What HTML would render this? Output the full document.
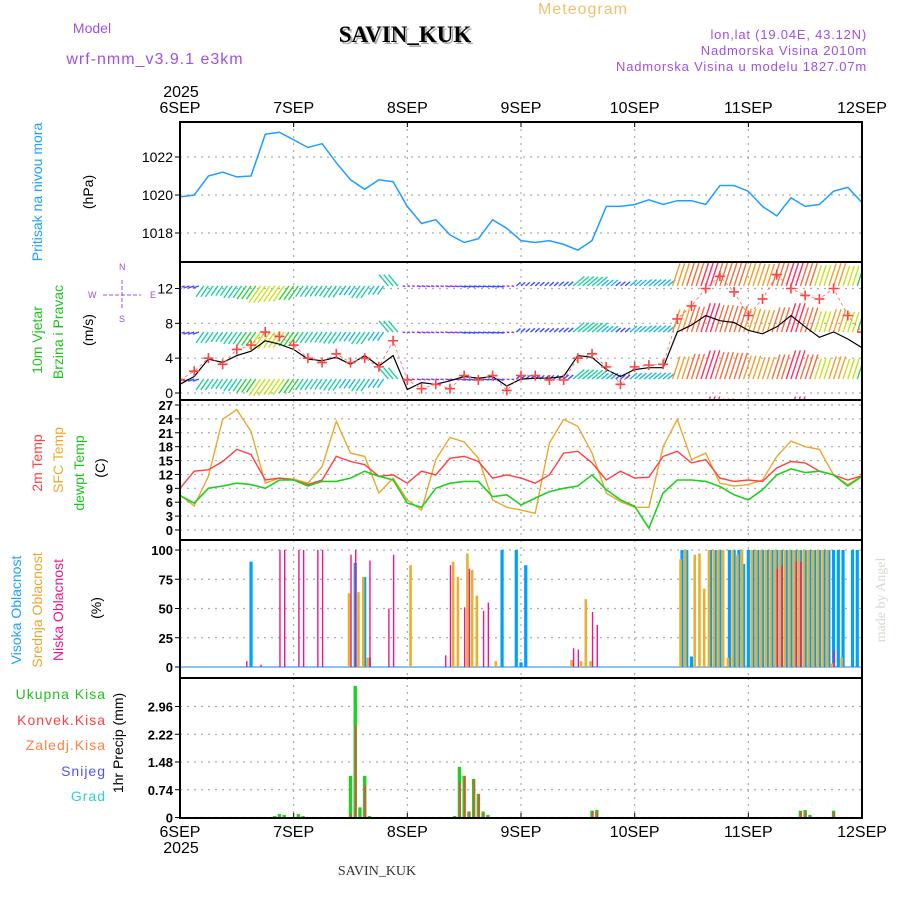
<!DOCTYPE html>
<html><head><meta charset="utf-8"><style>
html,body{margin:0;padding:0;background:#fff;}
svg{display:block;font-family:"Liberation Sans",sans-serif;}
</style></head><body>
<svg id="chart" width="900" height="900" viewBox="0 0 900 900" xmlns="http://www.w3.org/2000/svg">
<text x="583" y="14" font-size="16" fill="#f0c070" text-anchor="middle" letter-spacing="1">Meteogram</text>
<text x="92" y="33" font-size="14" fill="#a050e0" text-anchor="middle">Model</text>
<text x="155" y="64" font-size="16" fill="#a050e0" text-anchor="middle" letter-spacing="1">wrf-nmm_v3.9.1 e3km</text>
<text x="407" y="44" font-size="23" font-weight="bold" fill="#aaa" text-anchor="middle" font-family="Liberation Serif,serif">SAVIN_KUK</text>
<text x="405" y="42" font-size="23" font-weight="bold" fill="#000" text-anchor="middle" font-family="Liberation Serif,serif">SAVIN_KUK</text>
<text x="867" y="39" font-size="13" fill="#a050e0" text-anchor="end" letter-spacing="0.8">lon,lat (19.04E, 43.12N)</text>
<text x="867" y="55" font-size="13" fill="#a050e0" text-anchor="end" letter-spacing="0.8">Nadmorska Visina 2010m</text>
<text x="867" y="71" font-size="13" fill="#a050e0" text-anchor="end" letter-spacing="0.8">Nadmorska Visina u modelu 1827.07m</text>
<text x="377" y="875" font-size="14" fill="#333" text-anchor="middle" font-family="Liberation Serif,serif">SAVIN_KUK</text>
<text transform="translate(885,600) rotate(-90)" font-size="14" fill="#d8d8d0" text-anchor="middle" font-family="Liberation Serif,serif">made by Angel</text>

<g font-size="14" text-anchor="middle">
<text transform="translate(42,192) rotate(-90)" fill="#1e9fff">Pritisak na nivou mora</text>
<text transform="translate(93,192) rotate(-90)" fill="#000">(hPa)</text>
<text transform="translate(42,340) rotate(-90)" fill="#20c020">10m Vjetar</text>
<text transform="translate(63,332) rotate(-90)" fill="#20c020">Brzina i Pravac</text>
<text transform="translate(93,330) rotate(-90)" fill="#000">(m/s)</text>
<text transform="translate(42,463) rotate(-90)" fill="#ff4040">2m Temp</text>
<text transform="translate(63,460) rotate(-90)" fill="#e8a830">SFC Temp</text>
<text transform="translate(84,473) rotate(-90)" fill="#20c020">dewpt Temp</text>
<text transform="translate(105,468) rotate(-90)" fill="#000">(C)</text>
<text transform="translate(21,610) rotate(-90)" fill="#1e9fff">Visoka Oblacnost</text>
<text transform="translate(42,610) rotate(-90)" fill="#e8a830">Srednja Oblacnost</text>
<text transform="translate(63,610) rotate(-90)" fill="#f0148c">Niska Oblacnost</text>
<text transform="translate(101,608) rotate(-90)" fill="#000">(%)</text>
<text transform="translate(123,743) rotate(-90)" fill="#000">1hr Precip (mm)</text>
</g>
<g font-size="14" text-anchor="end" letter-spacing="1">
<text x="106" y="699" fill="#20c020">Ukupna Kisa</text>
<text x="106" y="725" fill="#ff4040">Konvek.Kisa</text>
<text x="106" y="750" fill="#ff8040">Zaledj.Kisa</text>
<text x="106" y="776" fill="#5050ff">Snijeg</text>
<text x="106" y="801" fill="#30d0d0">Grad</text>
</g>
<g stroke="#a050e0" fill="#a050e0" font-size="9">
<line x1="103" y1="295" x2="141" y2="295" stroke-dasharray="4,2"/>
<line x1="122" y1="280" x2="122" y2="310" stroke-dasharray="4,2"/>
<text x="88" y="298" stroke="none">W</text><text x="150" y="298" stroke="none">E</text>
<text x="119" y="270" stroke="none">N</text><text x="119" y="322" stroke="none">S</text>
</g>
<g id="plot"></g>
</svg>
<script>
// ---------- data (3-hourly, starting 6SEP 00 UTC) ----------
const hours = [0,3,6,9,12,15,18,21,24,27,30,33,36,39,42,45,48,51,54,57,60,63,66,69,72,75,78,81,84,87,90,93,96,99,102,105,108,111,114,117,120,123,126,129,132,135,138,141,144];
const pressure = [1019.9,1020,1021,1021.2,1020.95,1021,1023.2,1023.3,1022.9,1022.5,1022.7,1021.7,1020.8,1020.3,1020.8,1020.7,1019.4,1018.5,1018.7,1017.9,1017.5,1017.7,1018.7,1018.25,1017.6,1017.5,1017.6,1017.4,1017.1,1017.6,1019.4,1019.4,1019.5,1019.75,1019.5,1019.7,1019.7,1019.5,1020.5,1020.5,1020.2,1019.4,1018.9,1019.85,1019.4,1019.5,1020.2,1020.4,1019.6];
const windSpeed = [1,1.9,3.9,3.5,4.3,4.8,6,5.6,5,3.9,3.7,4.1,3.3,4.3,3.1,4.3,0.4,1.2,1,1.4,1.9,1.7,1.9,0.8,1.6,1.7,1.7,1.9,4.3,4.1,2.7,1.9,2.7,2.9,2.9,7,7.8,8.9,8.3,8.1,7.2,6.8,7.6,8.9,7.6,6.4,7,6.2,5.2];
const windGust = [1.5,2.5,4,3.3,5,5.5,7,6.5,5.5,4,3.5,4.5,3.5,4,3,6,1.5,0.5,1,0.5,2,1.5,2,0.3,2,2,1.5,1.5,4,4.5,3,1,3,3.2,3.3,8.5,10,12,13.4,11.6,8.9,10.8,13.6,12,11.2,10.8,12,8.9,7];
const windDir = [250,250,215,215,215,215,215,215,215,215,215,215,215,215,215,320,100,100,100,100,100,100,100,100,50,50,50,50,50,50,50,50,50,50,50,18,18,18,18,18,18,18,18,18,18,18,18,18,18];
const temp2m = [9,12.7,13,14.8,17.4,16.3,10.8,11.2,10.8,9.8,10.8,15.9,14.8,14.1,11.6,11.9,10.1,12.7,11.9,15.5,15.9,14.8,11.2,11.9,11.2,10.1,11.9,16.6,17,14.5,10.8,12.7,11.2,11.4,15.9,17,14.5,15.2,11.2,10.5,10.8,10.5,13.4,14.8,14.5,12.7,11.9,10.8,11.7];
const tempSfc = [7.6,5.2,11.6,23.9,26,21.3,10.1,11.2,11,10.1,13.7,23.5,16.6,15.9,8,11.2,6.5,4.3,15.2,20,19,15.5,6.5,4.9,4.3,3.6,18.8,23.9,22.4,16.6,8,6.1,4.9,4.9,18,23.9,15.2,16.6,10.1,9.5,9.8,10.8,15.9,19.2,18,17.4,11.9,9.8,11.7];
const tempDew = [7.4,5.8,9,9.5,10.1,9.8,9,10.8,10.8,9.5,10.5,10.5,11.2,12.7,11.6,10.8,5.8,4.9,9,10.1,10.5,10.5,7.2,7.6,5.4,6.9,8.3,9,9.5,11.9,8.7,6.5,5.1,0.4,8,10.8,10.8,10.5,9.4,7.6,6.5,8.7,11.9,13.2,12.4,12.7,11.9,9.5,11.6];
// cloud cover (hour of forecast, percent)
const highHours = [15,37,39,40,68,71,72,73,106,107,108,112,113,114,116,117,118,119,120,121,122,123,124,125,126,127,128,129,130,131,132,133,134,135,136,137,138,139,140,142,143];
const highVals  = [90,89,77,8,100,100,4,87,100,100,9,100,100,100,100,100,100,88,100,100,100,100,100,100,100,100,100,100,100,100,100,100,100,100,100,100,100,100,100,100,100];
const midHours = [36,38,39,40,49,58,59,61,62,63,67,83,85,86,87,106,107,109,110,111,112,113,114,115,116,117,118,119,121,122,123,124,125,126,127,128,129,130,131,132,133,134,135,136,137,138,140];
const midVals  = [63,64,77,8,87,90,77,97,83,61,5,6,5,58,5,92,100,96,97,67,100,100,100,100,8,100,96,100,100,100,100,100,100,100,100,100,100,100,100,100,100,100,100,100,100,3,8];
const lowHours = [14,17,21,22,25,26,29,30,36,37,40,44,45,56,57,60,61,64,65,83,84,87,88,126,127,130,131,138];
const lowVals  = [5,2,100,100,100,100,100,100,96,100,91,50,96,10,87,51,84,48,55,16,15,47,36,84,87,90,90,14];
// precipitation (hour, mm)
const precipHours = [20,21,22,25,26,36,37,38,39,40,58,59,60,61,62,63,64,65,87,88,131,132,133,138];
const precipTotal = [0.04,0.09,0.07,0.09,0.04,1.11,3.51,0.27,1.11,0.04,0.04,1.35,1.11,0.16,1.03,0.63,0.16,0.07,0.18,0.2,0.18,0.2,0.07,0.18];
const precipConv  = [0,0,0,0,0,0.1,2.44,0.02,0.85,0,0.02,0.95,1.11,0.16,1.0,0.63,0.1,0.02,0.18,0.15,0.15,0.15,0.03,0.15];
const dayLabels = ["6SEP","7SEP","8SEP","9SEP","10SEP","11SEP","12SEP"];
const pressTicks = [1018,1020,1022];
const windTicks = [0,4,8,12];
const tempTicks = [0,3,6,9,12,15,18,21,24,27];
const cloudTicks = [0,25,50,75,100];
const precipTicks = [0,0.74,1.48,2.22,2.96];
const windRows = [12.3,7.0,1.6,-3.7];

// ---------- axes ----------
const NS="http://www.w3.org/2000/svg";
const plot=document.getElementById('plot');
const X0=180,X1=862;
const X=h=>X0+h*(X1-X0)/144;
function lin(v0,p0,v1,p1){return v=>p0+(v-v0)*(p1-p0)/(v1-v0);}
const panels=[
 {name:'pressure',top:122,bot:262,y:lin(1018,233,1022,157),ticks:pressTicks,fmt:v=>String(v),bold:false},
 {name:'wind',top:262,bot:400,y:lin(0,393,12,288.5),ticks:windTicks,fmt:v=>String(v),bold:false},
 {name:'temp',top:400,bot:540,y:lin(0,530,27,405),ticks:tempTicks,fmt:v=>String(v),bold:true},
 {name:'cloud',top:540,bot:678,y:lin(0,667,100,550),ticks:cloudTicks,fmt:v=>String(v),bold:true},
 {name:'precip',top:678,bot:818,y:lin(0,817.5,2.96,706.5),ticks:precipTicks,fmt:v=>v===0?'0':v.toFixed(2),bold:true}
];
function mk(tag,attrs,parent){const e=document.createElementNS(NS,tag);for(const k in attrs)e.setAttribute(k,attrs[k]);(parent||plot).appendChild(e);return e;}

const defs=mk('defs',{});
panels.forEach((p,i)=>{
  const cp=mk('clipPath',{id:'clip'+i},defs);
  mk('rect',{x:X0,y:p.top,width:X1-X0,height:p.bot-p.top},cp);
  const g=mk('g',{});
  
  
  p.ticks.forEach(t=>{
    const y=p.y(t);
    mk('line',{x1:X0,x2:X1,y1:y,y2:y,stroke:'#aaa','stroke-dasharray':'2,5','stroke-width':1.2},g);
    mk('line',{x1:X0-5,x2:X0,y1:y,y2:y,stroke:'#000'},g);
    const tx=mk('text',{x:X0-7,y:y+5,'font-size':p.bold?13:14,'font-weight':p.bold?'bold':'normal','text-anchor':'end',fill:'#000'},g);
    tx.textContent=p.fmt(t);
    
    
  });
  for(let d=1;d<6;d++){const x=X(d*24);mk('line',{x1:x,x2:x,y1:p.top,y2:p.bot,stroke:'#aaa','stroke-dasharray':'2,5','stroke-width':1.2},g);}
});
// x labels
dayLabels.forEach((l,d)=>{
  const x=X(d*24);
  const t1=mk('text',{x:x,y:113,'font-size':16,'text-anchor':'middle'});t1.textContent=l;
  
  
  const t2=mk('text',{x:x,y:837,'font-size':16,'text-anchor':'middle'});t2.textContent=l;
  
  
  mk('line',{x1:x,x2:x,y1:122,y2:127,stroke:'#000'});
  mk('line',{x1:x,x2:x,y1:813,y2:818,stroke:'#000'});
});
{const y1=mk('text',{x:181,y:97,'font-size':16,'text-anchor':'middle'});y1.textContent='2025';
 
 
 const y2=mk('text',{x:181,y:853,'font-size':16,'text-anchor':'middle'});y2.textContent='2025';
 
 }

function line(arr,yf,color,w,name,clip){
  const d=arr.map((v,i)=>(i?'L':'M')+X(hours[i]).toFixed(1)+','+yf(v).toFixed(1)).join('');
  const p=mk('path',{d:d,fill:'none',stroke:color,'stroke-width':w,'clip-path':'url(#clip'+clip+')'});
  
  
}
// pressure
line(pressure,panels[0].y,'#1e9fff',1.5,'pressure-line',0);

// wind arrows
function windColor(s){
  if(s<1.5)return '#9a30e0';if(s<2.5)return '#3a50ff';if(s<3.5)return '#20b8e0';if(s<4.5)return '#20d0a0';
  if(s<5.5)return '#30d040';if(s<6.5)return '#c8e020';if(s<7.5)return '#f0a030';if(s<8.5)return '#f07040';return '#ff3060';}
const wy=panels[1].y;
const wg=mk('g',{'clip-path':'url(#clip1)'});


windRows.forEach(rv=>{
  const by=wy(rv);
  windSpeed.forEach((s,i)=>{
    const L=Math.max(s,0.8)*3.4;
    const a=windDir[i]*Math.PI/180;
    const dx=L*Math.sin(a),dy=-L*Math.cos(a);
    const c=windColor(s);
    [-4.7,0,4.7].forEach(o=>{
      const x=X(hours[i])+o;
      const ar=mk('line',{x1:x,y1:by,x2:x+dx,y2:by+dy,stroke:c,'stroke-width':1.4},wg);
      
      
    });
  });
});
line(windSpeed,wy,'#000',1.2,'wind-speed-line',1);
windGust.forEach((g,i)=>{
  const x=X(hours[i]),y=wy(g);
  const c=mk('path',{d:`M${x-5},${y}h10M${x},${y-5}v10`,stroke:'#ff4040','stroke-width':1.6,fill:'none','clip-path':'url(#clip1)'});
  
  
});
{const d=windGust.map((v,i)=>(i?'L':'M')+X(hours[i]).toFixed(1)+','+wy(v).toFixed(1)).join('');
 const p=mk('path',{d:d,fill:'none',stroke:'#ff6060','stroke-width':0.8,'stroke-dasharray':'3,3','clip-path':'url(#clip1)'});
 
 }

// temperatures
const ty=panels[2].y;
line(tempSfc,ty,'#e8a830',1.4,'sfc-temp-line',2);
line(temp2m,ty,'#ff4040',1.4,'temp-2m-line',2);
line(tempDew,ty,'#20d020',1.6,'dewpoint-line',2);

// clouds
const cy=panels[3].y;
mk('line',{x1:X0,x2:X1,y1:cy(0),y2:cy(0),stroke:'#90c0f0','stroke-width':2});
function bars(hs,vs,color,w,off,yf,name){
  hs.forEach((h,i)=>{
    const x=X(h)+off, y0=yf(0), y=yf(vs[i]);
    const r=mk('rect',{x:x-w/2,y:y,width:w,height:y0-y,fill:color});
    
    
  });
}
bars(highHours,highVals,'#00a0ff',3.2,0,cy,'high-cloud-bar');
bars(midHours,midVals,'#e8b030',2.6,-1.5,cy,'mid-cloud-bar');
bars(lowHours,lowVals,'#f0148c',1.4,0.5,cy,'low-cloud-bar');

// precipitation
const py=panels[4].y;
bars(precipHours,precipTotal,'#20d020',3.4,0,py,'total-precip-bar');
bars(precipHours,precipConv,'#ff4040',1.6,0.6,py,'convective-precip-bar');

// panel frames
panels.forEach(p=>{
  const r=mk('rect',{x:X0,y:p.top,width:X1-X0,height:p.bot-p.top,fill:'none',stroke:'#000','stroke-width':2});
  
  
});
</script>
</body></html>
